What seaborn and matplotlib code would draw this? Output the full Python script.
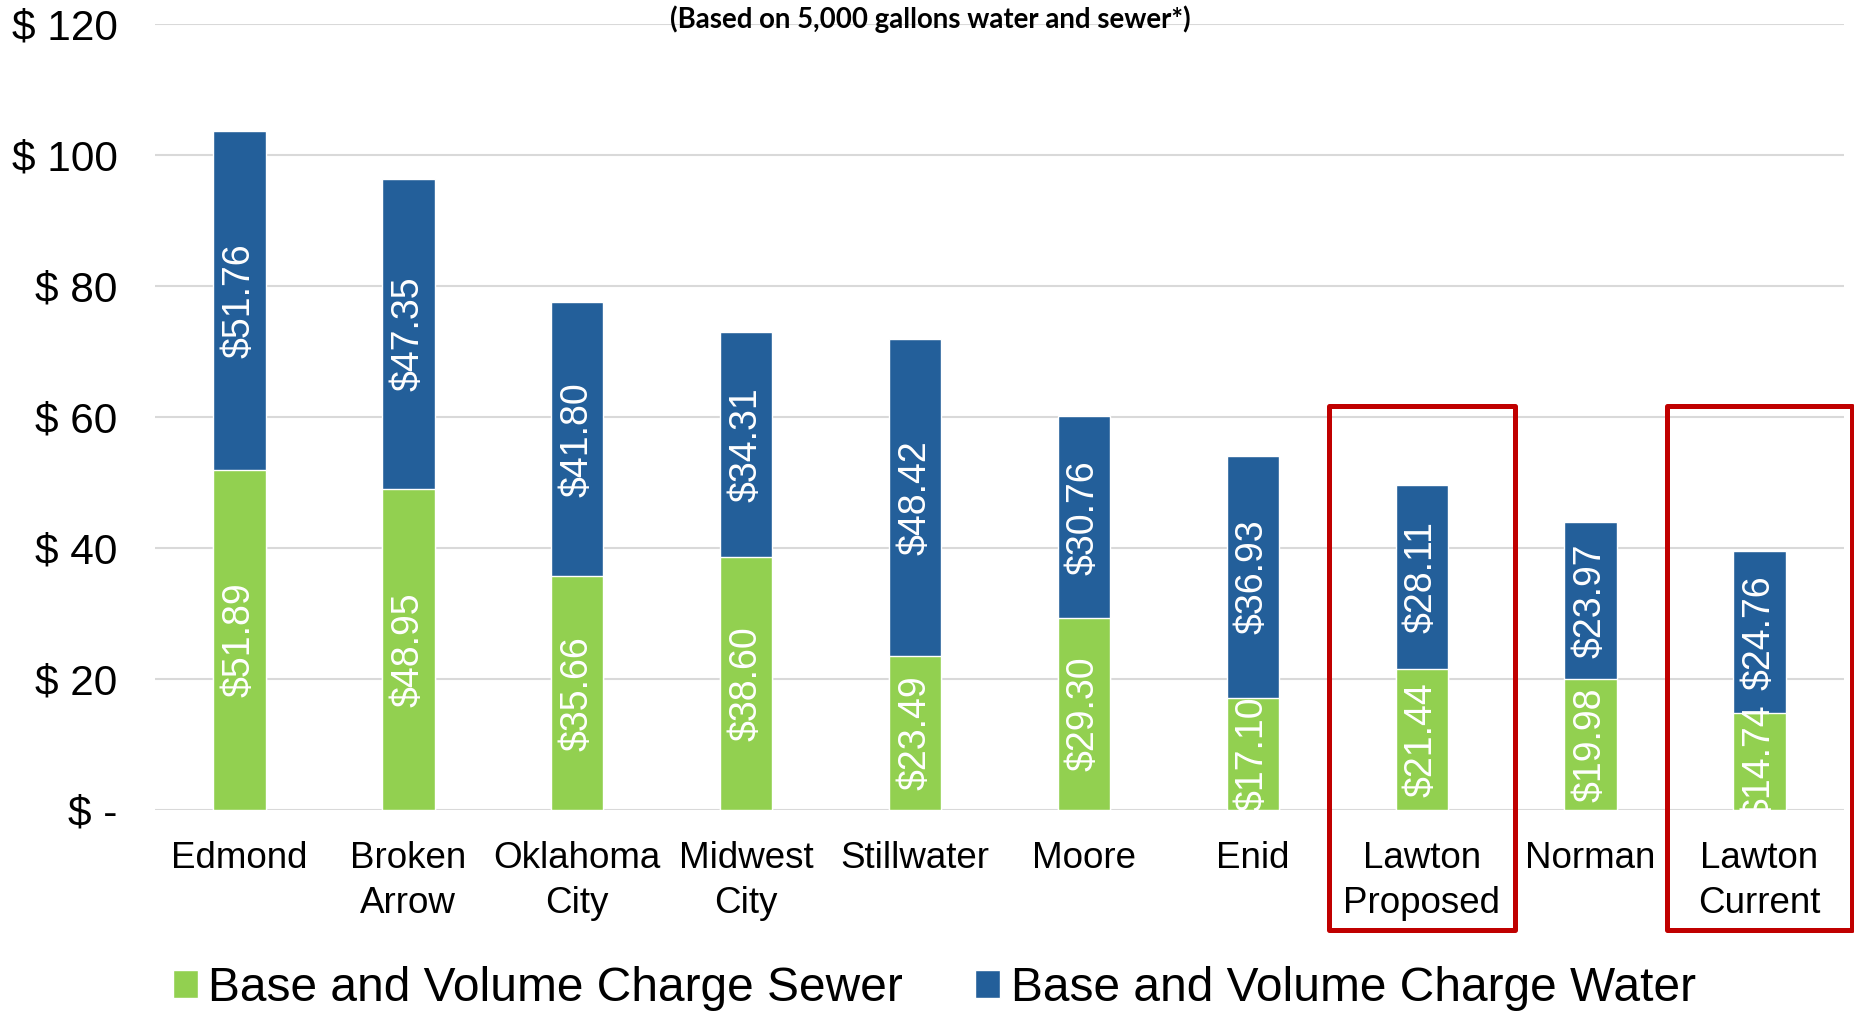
import matplotlib
matplotlib.use("Agg")
import matplotlib.pyplot as plt
import seaborn as sns
import pandas as pd
from matplotlib.patches import Patch, Rectangle

cities = ["Edmond", "Broken\nArrow", "Oklahoma\nCity", "Midwest\nCity", "Stillwater",
          "Moore", "Enid", "Lawton\nProposed", "Norman", "Lawton\nCurrent"]
sewer = [51.89, 48.95, 35.66, 38.60, 23.49, 29.30, 17.10, 21.44, 19.98, 14.74]
water = [51.76, 47.35, 41.80, 34.31, 48.42, 30.76, 36.93, 28.11, 23.97, 24.76]
yticks = [0, 20, 40, 60, 80, 100, 120]
ytick_labels = ["$ -", "$ 20", "$ 40", "$ 60", "$ 80", "$ 100", "$ 120"]
highlighted = ["Lawton\nProposed", "Lawton\nCurrent"]
title = "(Based on 5,000 gallons water and sewer*)"
legend_labels = ["Base and Volume Charge Sewer", "Base and Volume Charge Water"]

GREEN = "#92D050"
BLUE = "#235F9A"
RED = "#C00000"

df = pd.DataFrame({"city": cities, "sewer": sewer, "water": water})
df["total"] = df["sewer"] + df["water"]

sns.set_style("white")
plt.rcParams["font.family"] = ["Liberation Sans", "DejaVu Sans"]
plt.rcParams["text.color"] = "black"
plt.rcParams["xtick.color"] = "black"
plt.rcParams["ytick.color"] = "black"

fig = plt.figure(figsize=(18.54, 10.11), dpi=100)
ax = fig.add_axes([155 / 1854, 1 - 810 / 1011, (1844 - 155) / 1854, (810 - 23.6) / 1011])

sns.barplot(data=df, x="city", y="total", color=BLUE, width=0.31, ax=ax,
            saturation=1, zorder=3)
sns.barplot(data=df, x="city", y="sewer", color=GREEN, width=0.31, ax=ax,
            saturation=1, zorder=3)

ax.set_ylim(0, 120)
ax.set_xlim(-0.5, len(cities) - 0.5)
ax.set_yticks(yticks)
ax.set_yticklabels(ytick_labels, fontsize=30.5, color="black")
ax.tick_params(axis="y", length=0, pad=27, labelcolor="black")
ax.tick_params(axis="x", length=0, pad=22, labelsize=26.5, labelcolor="black")
ax.set_xlabel("")
ax.set_ylabel("")
for lab in ax.get_xticklabels():
    lab.set_horizontalalignment("center")
    lab.set_linespacing(1.38)
ax.grid(axis="y", color="#D9D9D9", linewidth=1.5, zorder=0)
ax.set_axisbelow(True)
for s in ax.spines.values():
    s.set_visible(False)

for i, (sv, wv) in enumerate(zip(sewer, water)):
    ax.text(i, sv / 2, f"${sv:.2f}", rotation=90, ha="center", va="center",
            color="white", fontsize=27, zorder=5, clip_on=True)
    ax.text(i, sv + wv / 2, f"${wv:.2f}", rotation=90, ha="center", va="center",
            color="white", fontsize=27, zorder=5, clip_on=True)

for name in highlighted:
    i = cities.index(name)
    ax.add_patch(Rectangle((i - 0.55, -18.3), 1.1, 80.0, fill=False,
                           edgecolor=RED, linewidth=3.6, clip_on=False, zorder=6,
                           joinstyle="round"))

fig.text(930 / 1854, 1 - 19 / 1011, title, ha="center", va="center",
         fontsize=19.9, fontweight="bold", color="black", family=["Lato", "DejaVu Sans"])

handles = [Patch(facecolor=GREEN), Patch(facecolor=BLUE)]
fig.legend(handles, legend_labels, loc="center left",
           bbox_to_anchor=(173 / 1854, 1 - 988.5 / 1011), ncol=2, frameon=False,
           fontsize=34.5, handlelength=0.52, handleheight=0.52, handletextpad=0.22,
           columnspacing=1.5, borderpad=0, borderaxespad=0, labelcolor="black")

fig.savefig("out.png", dpi=100)
